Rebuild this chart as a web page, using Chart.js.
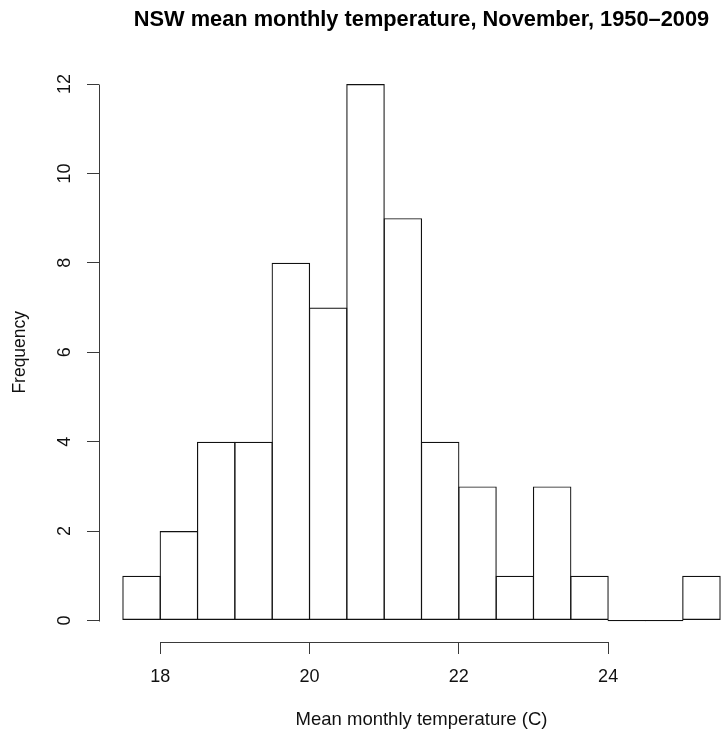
<!DOCTYPE html>
<html>
<head>
<meta charset="utf-8">
<script src="https://cdn.jsdelivr.net/npm/chart.js@4/dist/chart.umd.min.js"></script>
<style>
html, body { margin: 0; padding: 0; overflow: hidden; background: #ffffff; }
#c { display: block; }
</style>
</head>
<body>
<canvas id="c" width="744" height="737"></canvas>
<script>
// Histogram bin edges (°C) and counts
const breaks = [17.5, 18, 18.5, 19, 19.5, 20, 20.5, 21, 21.5, 22, 22.5, 23, 23.5, 24, 24.5, 25, 25.5];
const counts = [1, 2, 4, 4, 8, 7, 12, 9, 4, 3, 1, 3, 1, 0, 0, 1];
const xTicks = [18, 20, 22, 24];
const yTicks = [0, 2, 4, 6, 8, 10, 12];
const titleText = 'NSW mean monthly temperature, November, 1950\u20132009';
const xTitle = 'Mean monthly temperature (C)';
const yTitle = 'Frequency';

const points = counts.map((n, i) => ({ x: (breaks[i] + breaks[i + 1]) / 2, y: n }));

const FONT = "'Liberation Sans', Arial, Helvetica, sans-serif";
const AXIS = '#3a3a3a';

const rAxes = {
  id: 'rAxes',
  afterDraw(chart) {
    const { ctx, chartArea } = chart;
    const xs = chart.scales.x, ys = chart.scales.y;
    const al = v => Math.round(v) + 0.5;
    ctx.save();
    ctx.strokeStyle = AXIS;
    ctx.lineWidth = 1;
    ctx.beginPath();
    ctx.moveTo(al(chartArea.left), al(ys.getPixelForValue(yTicks[0])));
    ctx.lineTo(al(chartArea.left), al(ys.getPixelForValue(yTicks[yTicks.length - 1])));
    ctx.moveTo(al(xs.getPixelForValue(xTicks[0])), al(chartArea.bottom));
    ctx.lineTo(al(xs.getPixelForValue(xTicks[xTicks.length - 1])), al(chartArea.bottom));
    ctx.stroke();
    ctx.restore();
  }
};

new Chart(document.getElementById('c'), {
  type: 'bar',
  data: {
    datasets: [{
      data: points,
      backgroundColor: 'rgba(0,0,0,0)',
      borderColor: '#111111',
      borderWidth: 1.2,
      borderSkipped: false,
      inflateAmount: 0,
      minBarLength: 1.2,
      categoryPercentage: 1,
      barPercentage: 1.0321
    }]
  },
  options: {
    responsive: false,
    devicePixelRatio: 1,
    animation: false,
    layout: { padding: 0 },
    plugins: {
      legend: { display: false },
      tooltip: { enabled: false },
      title: {
        display: true,
        text: titleText,
        fullSize: false,
        color: '#000000',
        font: { family: FONT, size: 21.8, weight: 'bold', lineHeight: 1.2 },
        padding: { top: 7, bottom: 29.4 }
      }
    },
    scales: {
      x: {
        type: 'linear',
        min: 17.18,
        max: 25.82,
        offset: false,
        afterBuildTicks: s => { s.ticks = xTicks.map(v => ({ value: v })); },
        afterFit: s => { s.height = 95; },
        grid: { display: true, drawOnChartArea: false, drawTicks: true, tickLength: 12, color: AXIS, offset: false },
        border: { display: false },
        ticks: { color: '#111111', font: { family: FONT, size: 18 }, padding: 12, maxRotation: 0, minRotation: 0, autoSkip: false },
        title: { display: true, text: xTitle, color: '#111111', font: { family: FONT, size: 18.5, lineHeight: 1.2 }, padding: { top: 0, bottom: 6 } }
      },
      y: {
        type: 'linear',
        min: -0.48,
        max: 12.48,
        afterBuildTicks: s => { s.ticks = yTicks.map(v => ({ value: v })); },
        afterFit: s => { s.width = 99; },
        grid: { display: true, drawOnChartArea: false, drawTicks: true, tickLength: 12, color: AXIS },
        border: { display: false },
        ticks: { color: '#111111', font: { family: FONT, size: 18 }, padding: 12, minRotation: 90, maxRotation: 90, crossAlign: 'center', autoSkip: false },
        title: { display: true, text: yTitle, color: '#111111', font: { family: FONT, size: 17.5, lineHeight: 1.2 }, padding: { top: 10, bottom: 0 } }
      }
    }
  },
  plugins: [rAxes]
});
</script>
</body>
</html>
